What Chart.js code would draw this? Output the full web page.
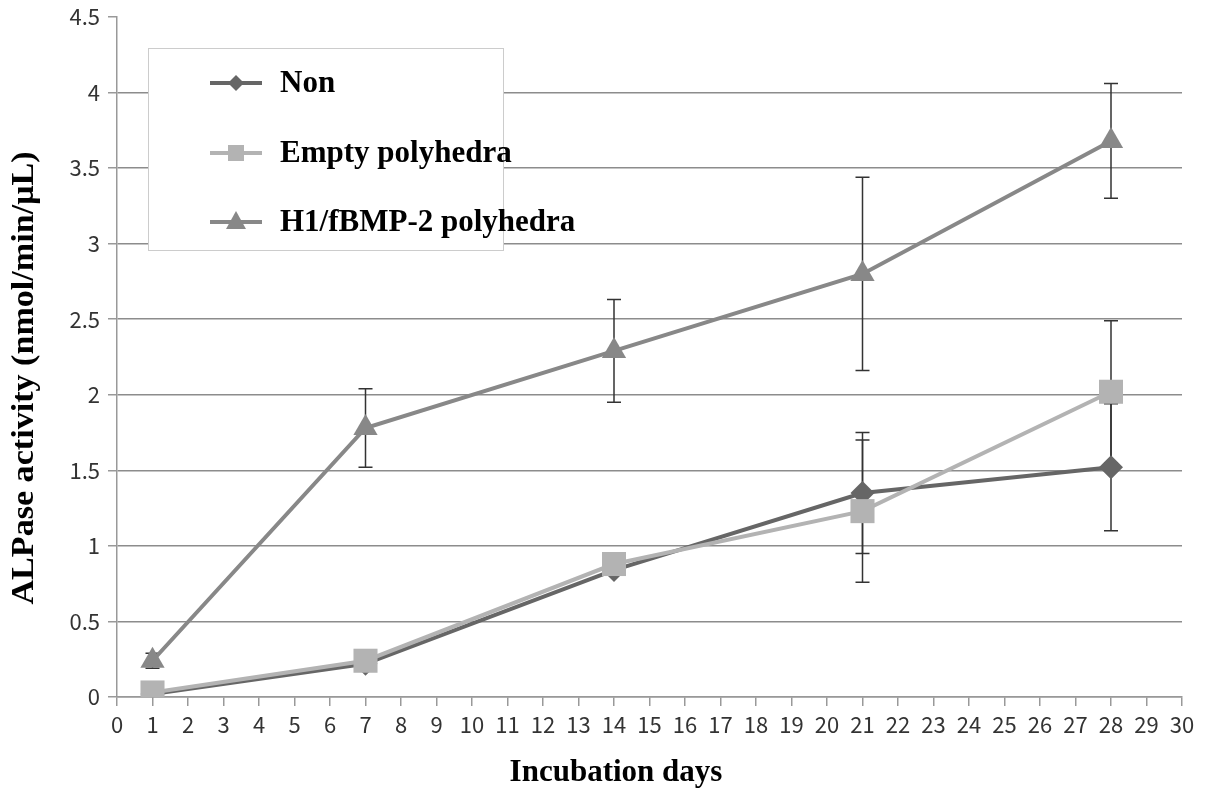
<!DOCTYPE html>
<html lang="en">
<head>
    <meta charset="UTF-8">
    <title>ALPase activity</title>
    <script src="https://cdn.jsdelivr.net/npm/chart.js"></script>
    <style>
        html, body { margin: 0; padding: 0; background: #fff; }
        #wrap { width: 1208px; height: 792px; }
    </style>
</head>
<body>
    <div id="wrap"><canvas id="alpChart"></canvas></div>

    <script>
        // incubation days
        const days = [1, 7, 14, 21, 28];

        const seriesNames = ['Non', 'Empty polyhedra', 'H1/fBMP-2 polyhedra'];

        const nonValues   = [0.02, 0.22, 0.84, 1.35, 1.52];
        const nonErrors   = [0.01, 0.03, 0.03, 0.40, 0.42];

        const emptyValues = [0.03, 0.24, 0.88, 1.23, 2.02];
        const emptyErrors = [0.01, 0.02, 0.03, 0.47, 0.47];

        const h1Values    = [0.24, 1.78, 2.29, 2.80, 3.68];
        const h1Errors    = [0.05, 0.26, 0.34, 0.64, 0.38];

        const xTickLabels = ['0','1','2','3','4','5','6','7','8','9','10','11','12','13','14','15',
                             '16','17','18','19','20','21','22','23','24','25','26','27','28','29','30'];
        const yTickLabels = ['0', '0.5', '1', '1.5', '2', '2.5', '3', '3.5', '4', '4.5'];

        const xTitle = 'Incubation days';
        const yTitle = 'ALPase activity (nmol/min/\u03bcL)';

        const colors = ['#666666', '#b3b3b3', '#888888'];
        const shapes = ['rectRot', 'rect', 'triangle'];

        function toPoints(vals, errs) {
            return days.map((d, i) => ({ x: d, y: vals[i], err: errs[i] }));
        }

        // error bars, drawn under the markers
        const errorBars = {
            id: 'errorBars',
            beforeDatasetsDraw(chart) {
                const ctx = chart.ctx;
                const xs = chart.scales.x, ys = chart.scales.y;
                ctx.save();
                ctx.strokeStyle = '#333333';
                ctx.lineWidth = 1.5;
                chart.data.datasets.forEach(ds => {
                    ds.data.forEach(p => {
                        const px = xs.getPixelForValue(p.x);
                        const top = ys.getPixelForValue(p.y + p.err);
                        const bot = ys.getPixelForValue(Math.max(0, p.y - p.err));
                        ctx.beginPath();
                        ctx.moveTo(px, top); ctx.lineTo(px, bot);
                        ctx.moveTo(px - 7, top); ctx.lineTo(px + 7, top);
                        ctx.moveTo(px - 7, bot); ctx.lineTo(px + 7, bot);
                        ctx.stroke();
                    });
                });
                ctx.restore();
            }
        };

        function drawMarker(ctx, shape, x, y) {
            ctx.beginPath();
            if (shape === 'rectRot') {
                ctx.moveTo(x, y - 8); ctx.lineTo(x + 8, y); ctx.lineTo(x, y + 8); ctx.lineTo(x - 8, y);
            } else if (shape === 'rect') {
                ctx.rect(x - 8, y - 8, 16, 16);
            } else {
                ctx.moveTo(x, y - 11); ctx.lineTo(x + 10, y + 7); ctx.lineTo(x - 10, y + 7);
            }
            ctx.closePath();
            ctx.fill();
        }

        // legend box inside the plot + axis titles (offset like the original)
        const boxLegend = {
            id: 'boxLegend',
            afterDatasetsDraw(chart) {
                const ctx = chart.ctx;
                ctx.save();
                ctx.fillStyle = '#ffffff';
                ctx.fillRect(148, 48, 355, 202);
                ctx.strokeStyle = '#cccccc';
                ctx.lineWidth = 1;
                ctx.strokeRect(148.5, 48.5, 355, 202);
                const rows = [83, 153, 222];
                ctx.font = 'bold 31px "Liberation Serif", "Times New Roman", serif';
                seriesNames.forEach((name, i) => {
                    const y = rows[i];
                    ctx.strokeStyle = colors[i];
                    ctx.fillStyle = colors[i];
                    ctx.lineWidth = 4;
                    ctx.beginPath();
                    ctx.moveTo(210, y); ctx.lineTo(262, y);
                    ctx.stroke();
                    drawMarker(ctx, shapes[i], 236, y);
                    ctx.fillStyle = '#000000';
                    ctx.textBaseline = 'middle';
                    ctx.textAlign = 'left';
                    ctx.fillText(name, 280, y + 1);
                });
                ctx.restore();
            },
            afterDraw(chart) {
                const ctx = chart.ctx;
                ctx.save();
                ctx.fillStyle = '#000000';
                ctx.font = 'bold 31px "Liberation Serif", "Times New Roman", serif';
                ctx.textAlign = 'center';
                ctx.textBaseline = 'middle';
                ctx.fillText(xTitle, 616, 773);
                ctx.translate(25, 378);
                ctx.rotate(-Math.PI / 2);
                ctx.scale(1.1, 1);
                ctx.fillText(yTitle, 0, 0);
                ctx.restore();
            }
        };

        const tickFont = { family: '"Noto Sans CJK JP", "DejaVu Sans", sans-serif', size: 22 };

        new Chart(document.getElementById('alpChart'), {
            type: 'line',
            data: {
                datasets: [
                    { label: seriesNames[0], data: toPoints(nonValues, nonErrors), pointRadius: 12, order: 3 },
                    { label: seriesNames[1], data: toPoints(emptyValues, emptyErrors), pointRadius: 17, order: 2 },
                    { label: seriesNames[2], data: toPoints(h1Values, h1Errors), pointRadius: 14, order: 1 }
                ].map((ds, i) => Object.assign(ds, {
                    borderColor: colors[i],
                    backgroundColor: colors[i],
                    pointBackgroundColor: colors[i],
                    pointBorderColor: colors[i],
                    pointBorderWidth: 0,
                    pointStyle: shapes[i],
                    borderWidth: 4,
                    tension: 0
                }))
            },
            plugins: [errorBars, boxLegend],
            options: {
                responsive: true,
                maintainAspectRatio: false,
                animation: false,
                layout: { padding: { left: 0, right: 26, top: 16, bottom: 0 } },
                plugins: {
                    legend: { display: false },
                    tooltip: { enabled: false }
                },
                scales: {
                    x: {
                        type: 'linear',
                        min: 0, max: 30,
                        afterFit: s => { s.height = 95; },
                        border: { color: '#999999', width: 1.5 },
                        grid: { drawOnChartArea: false, drawTicks: true, tickLength: 9, tickColor: '#999999', lineWidth: 1.5 },
                        ticks: {
                            stepSize: 1, autoSkip: false, maxRotation: 0,
                            color: '#333333', font: tickFont, padding: 5,
                            callback: v => xTickLabels[v]
                        }
                    },
                    y: {
                        min: 0, max: 4.5,
                        afterFit: s => { s.width = 117; s.paddingTop = 0; s.paddingBottom = 0; },
                        border: { color: '#999999', width: 1.5 },
                        grid: {
                            color: c => (c.tick && c.tick.value === 4.5) ? 'rgba(0,0,0,0)' : '#8c8c8c',
                            tickColor: '#999999', tickLength: 9, lineWidth: 1.5
                        },
                        ticks: {
                            stepSize: 0.5, color: '#333333', font: tickFont, padding: 8,
                            callback: (v, i) => yTickLabels[i]
                        }
                    }
                }
            }
        });
    </script>
</body>
</html>
